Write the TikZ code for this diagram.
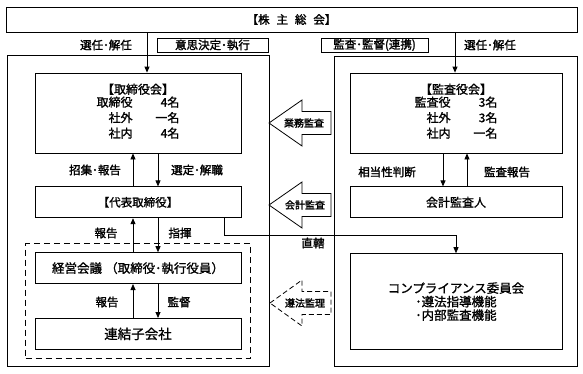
\documentclass[tikz,border=0pt]{standalone}
\usepackage{fontspec}
\setmainfont{Noto Sans CJK JP}[FakeBold=1.2]
\newfontfamily\lblfont{Noto Sans CJK JP}[FakeBold=1.8]
\usetikzlibrary{arrows.meta,positioning,fit}

\begin{document}
\begin{tikzpicture}[
    x=1pt, y=-1pt,
    line width=0.8pt,
    node distance=33pt,
    box/.style={draw, minimum width=206pt, minimum height=31pt, inner sep=0pt, align=center, font=\fontsize{12}{15.5}\selectfont},
    frame/.style={draw, inner sep=0pt},
    lbl/.style={inner sep=0pt, font=\lblfont\fontsize{11.5}{13}\selectfont},
    blbl/.style={inner sep=0pt, font=\lblfont\fontsize{10}{12}\selectfont},
    arrow/.style={-{Triangle[length=6pt,width=5pt]}}
]
    \useasboundingbox (0,0) rectangle (583,373);

    % Columns of the vertical arrows
    \coordinate (lsel) at (147,0);
    \coordinate (rsel) at (455,0);
    \coordinate (lup) at (133,0);
    \coordinate (ldown) at (158,0);
    \coordinate (rdown) at (443,0);
    \coordinate (rup) at (467,0);
    \coordinate (direct) at (224,0);

    % Shareholders
    \node[frame, minimum width=571pt, minimum height=25pt, font=\lblfont\fontsize{11.5}{14}\selectfont] (soukai) at (291.5,19.5) {【株\hspace{0.6em}主\hspace{0.6em}総\hspace{0.6em}会】};

    % Left side: execution
    \node[box, minimum height=80pt] (torishimari) at (138,113) {【取締役会】\\
        \begin{tabular}{@{}r@{\hspace{1.9em}}r@{}}取締役 & 4名\\ 社外 & 一名\\ 社内 & 4名\end{tabular}};
    \node[box, below=of torishimari, font=\fontsize{11.5}{14}\selectfont] (daihyo) {【代表取締役】};
    \node[box, below=34pt of daihyo, font=\fontsize{12.5}{14}\selectfont] (keiei) {経営会議\hspace{0.25em}（取締役･執行役員）};
    \node[box, below=34pt of keiei, font=\fontsize{13.5}{14}\selectfont] (renketsu) {連結子会社};

    % Right side: audit
    \node[box, minimum width=212pt, minimum height=80pt] (kansayaku) at (456,113) {【監査役会】\\
        \begin{tabular}{@{}r@{\hspace{1.9em}}r@{}}監査役 & 3名\\ 社外 & 3名\\ 社内 & 一名\end{tabular}};
    \node[box, minimum width=212pt, below=of kansayaku] (kaikei) {会計監査人};
    \node[box, minimum width=212pt, minimum height=96pt, below=35pt of kaikei, font=\fontsize{12.5}{13.5}\selectfont] (compliance) {コンプライアンス委員会\\･遵法指導機能\\･内部監査機能};

    % Frames
    \node[frame, fit=(torishimari)(renketsu), inner xsep=27.5pt, inner ysep=17pt] (leftframe) {};
    \node[frame, fit=(kansayaku)(compliance), inner xsep=15pt, inner ysep=16.5pt] (rightframe) {};
    \node[frame, dashed, line width=1.2pt, dash pattern=on 6pt off 4pt, fit=(keiei)(renketsu), inner xsep=9pt, inner ysep=8.5pt] (group) {};

    % Headings of the two sides
    \node[frame, lbl, minimum width=111pt, minimum height=14pt] (ishi) at (212.5,45) {意思決定･執行};
    \node[frame, lbl, minimum width=107pt, minimum height=14pt] (kantoku) at (374.5,45) {監査･監督(連携)};

    % Arrows
    \draw[arrow] (lsel |- soukai.south) -- (lsel |- torishimari.north);
    \draw[arrow] (rsel |- soukai.south) -- (rsel |- kansayaku.north);
    \draw[arrow] (lup |- daihyo.north) -- (lup |- torishimari.south);
    \draw[arrow] (ldown |- torishimari.south) -- (ldown |- daihyo.north);
    \draw[arrow] (lup |- keiei.north) -- (lup |- daihyo.south);
    \draw[arrow] (ldown |- daihyo.south) -- (ldown |- keiei.north);
    \draw[arrow] (lup |- renketsu.north) -- (lup |- keiei.south);
    \draw[arrow] (ldown |- keiei.south) -- (ldown |- renketsu.north);
    \draw[arrow] (rdown |- kansayaku.south) -- (rdown |- kaikei.north);
    \draw[arrow] (rup |- kaikei.north) -- (rup |- kansayaku.south);
    \draw[arrow] (direct |- daihyo.south) -- ++(0,17) -| (compliance.north);

    % Labels
    \node[lbl] (sel1) at (106,45) {選任･解任};
    \node[lbl] (sel2) at (490,45) {選任･解任};
    \node[lbl] (shoshu) at (95,170) {招集･報告};
    \node[lbl] (sentei) at (197,170) {選定･解職};
    \node[lbl] (hokoku1) at (106,233) {報告};
    \node[lbl] (shiki) at (180,233) {指揮};
    \node[lbl] (hokoku2) at (107,302) {報告};
    \node[lbl] (kanntoku2) at (179,302) {監督};
    \node[lbl] (soto) at (387,172) {相当性判断};
    \node[lbl] (khokoku) at (507,172) {監査報告};
    \node[lbl] (chokkatsu) at (313,243) {直轄};

    % Block arrows
    \draw (269,123) -- ++(33,-23) -- ++(0,11.5) -- ++(29,0) -- ++(0,23) -- ++(-29,0) -- ++(0,11.5) -- cycle;
    \node[blbl] (gyomu) at (304,123) {業務監査};
    \draw (269,205) -- ++(33,-23) -- ++(0,11.5) -- ++(29,0) -- ++(0,23) -- ++(-29,0) -- ++(0,11.5) -- cycle;
    \node[blbl] (kaikeikansa) at (305,205) {会計監査};
    \draw[dashed, dash pattern=on 5pt off 3pt] (270,303) -- ++(32,-23) -- ++(0,11.5) -- ++(29,0) -- ++(0,23) -- ++(-29,0) -- ++(0,11.5) -- cycle;
    \node[blbl] (junpo) at (305,303) {遵法監理};

\end{tikzpicture}
\end{document}
